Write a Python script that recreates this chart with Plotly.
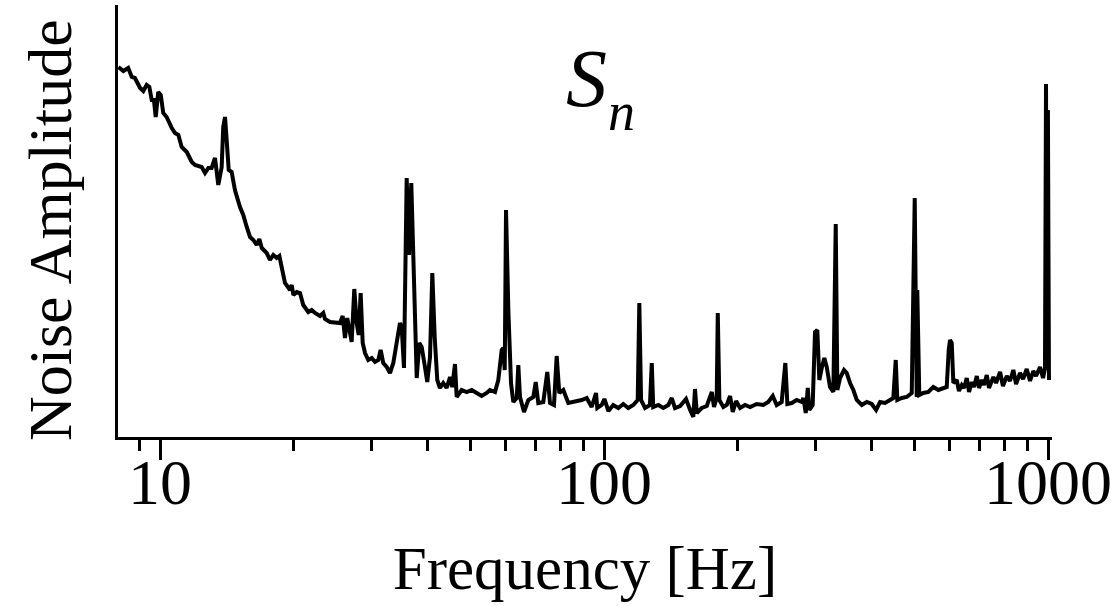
import plotly.graph_objects as go

# Frequency [Hz] and noise amplitude (arbitrary units)
freq_hz = [
    8.06, 8.27, 8.48, 8.64, 8.78, 9.02, 9.17, 9.33, 9.46, 9.58, 9.69, 9.78, 9.91,
    10.04, 10.17, 10.35, 10.63, 10.81, 11.00, 11.19, 11.49, 11.79, 11.99, 12.20,
    12.41, 12.63, 12.85, 13.07, 13.30, 13.53, 13.77, 13.88, 14.01, 14.13, 14.28,
    14.50, 14.75, 15.14, 15.40, 15.68, 15.95, 16.23, 16.51, 16.74, 16.95, 17.39,
    17.69, 18.00, 18.32, 18.57, 18.80, 19.12, 19.63, 19.80, 19.97, 20.32, 20.67,
    21.02, 21.58, 21.96, 22.34, 22.93, 23.32, 23.53, 24.15, 25.00,
    25.43, 25.79, 26.10, 26.41, 26.69, 27.02, 27.39, 27.73, 28.02, 28.31, 28.61,
    28.96, 29.45, 29.98, 30.49, 31.02, 31.40, 31.83, 32.40, 32.96, 33.53, 34.12,
    34.71, 35.02, 35.44, 35.94, 36.37, 36.81, 37.33, 37.86, 38.37, 38.85, 39.38,
    39.99, 40.56, 41.05, 41.56, 42.12, 42.71, 43.45, 44.22, 45.00, 45.53, 46.17,
    46.58, 47.80, 49.06, 50.35, 51.67, 53.03, 54.42, 55.36, 56.82, 57.80, 58.83,
    59.32, 59.76, 60.16, 60.89, 61.74, 62.48, 63.60, 64.12, 64.69, 66.04, 67.53,
    69.31, 70.18, 71.12, 72.99, 74.52, 75.57, 77.15, 78.24, 79.30, 80.96, 83.10,
    86.04,
    89.08, 91.42, 93.82, 95.94, 96.58, 98.81, 100.2, 102.3, 104.9, 107.7, 110.5,
    113.4, 116.4, 119.1, 120.1, 121.2, 123.7, 126.9, 128.1, 129.1, 132.6, 136.0,
    139.6, 142.1, 144.5, 148.4, 153.0, 156.3, 158.9, 160.3, 161.8, 166.0, 170.4,
    174.9, 176.9, 179.4, 180.4, 181.9, 185.7, 189.0, 192.3, 195.0, 198.4, 202.5,
    207.8, 213.3, 220.8, 228.5, 234.4, 239.9, 244.9, 251.3, 256.1, 258.8, 264.7,
    271.6, 278.9,
    281.2, 284.7, 287.7, 290.1, 295.1, 298.7, 302.3, 305.5, 309.3, 313.5, 317.4,
    322.9, 328.5, 332.6, 335.4, 340.1, 347.2, 352.1, 358.2, 364.4, 370.9, 380.7,
    390.7, 400.9, 410.0, 418.6, 429.6, 440.8, 448.4, 454.0, 457.8, 468.3, 480.6,
    493.3, 501.0, 506.2, 507.7, 513.0, 523.8, 537.6, 551.7, 566.2, 581.1, 591.4,
    597.6, 601.7, 607.0, 612.1, 623.0, 630.1, 639.4, 647.0, 656.2, 664.0, 673.4,
    681.4, 691.2, 699.3, 709.4, 717.6, 727.9, 736.4, 753.3, 763.9, 780.0, 791.7,
    807.5, 821.0, 835.5, 847.3, 865.0, 878.6, 895.6, 911.0, 926.6, 939.8, 959.4,
    974.6, 984.5, 989.7, 995.0, 999.5, 1005.0,
]
amplitude = [
    37.0, 36.6, 36.9, 36.0, 35.9, 34.9, 34.6, 35.2, 35.0, 33.7, 33.7, 32.0, 34.5,
    34.2, 32.4, 32.0, 30.9, 30.4, 30.2, 29.0, 28.5, 27.5, 27.2, 27.1,
    27.0, 26.4, 26.9, 26.9, 27.9, 25.2, 27.0, 31.0, 32.0, 29.7, 26.7,
    26.5, 24.7, 23.0, 22.2, 21.0, 20.0, 19.7, 19.2, 19.8, 18.9, 18.4,
    17.7, 18.2, 17.9, 18.1, 17.0, 15.4, 14.7, 15.2, 14.2, 14.5, 14.4,
    13.2, 12.5, 12.7, 12.4, 12.1, 12.4, 11.8, 11.5, 11.4,
    11.4, 12.1, 9.9, 11.9, 10.5, 9.5, 14.8, 11.4, 10.2, 14.4, 9.4,
    8.4, 7.7, 7.9, 7.5, 7.7, 8.7, 7.4, 7.0, 6.4, 7.4, 9.7,
    11.4, 11.0, 6.9, 25.9, 18.2, 25.4, 13.7, 5.9, 9.4, 9.0, 7.4,
    5.5, 8.0, 16.4, 10.0, 5.7, 4.9, 5.4, 4.9, 6.0, 5.0, 7.3,
    4.0, 4.7, 4.5, 4.7, 4.4, 4.1, 4.4, 4.7, 4.5, 5.7, 8.7,
    8.9, 6.7, 22.7, 12.7, 5.4, 3.5, 3.9, 7.2, 4.0, 2.5, 3.7,
    4.0, 5.5, 3.4, 3.5, 6.5, 3.4, 3.2, 8.1, 4.4, 4.7, 3.4,
    3.5,
    3.7, 3.9, 3.0, 4.4, 2.9, 3.2, 3.8, 2.6, 3.2, 2.9, 3.3,
    2.9, 3.2, 3.7, 13.4, 3.7, 2.9, 3.2, 7.4, 3.0, 3.2, 2.9,
    3.2, 3.9, 2.9, 3.1, 3.8, 2.7, 2.0, 4.8, 2.4, 2.9, 3.1,
    4.5, 3.0, 3.9, 12.4, 3.7, 3.0, 3.2, 4.1, 2.5, 3.6, 2.9,
    3.2, 3.0, 3.3, 3.2, 3.5, 4.1, 3.2, 3.5, 7.4, 3.3, 3.4,
    3.7, 3.5,
    3.9, 2.4, 4.9, 2.7, 3.2, 10.5, 10.7, 5.7, 6.9, 7.9, 7.0,
    5.0, 4.5, 21.3, 4.7, 5.9, 6.7, 6.4, 5.4, 4.7, 3.7, 3.2,
    3.5, 3.3, 2.7, 3.5, 3.4, 3.7, 3.9, 7.7, 3.7, 3.9, 4.0,
    4.4, 23.9, 4.0, 14.7, 4.2, 4.4, 4.5, 5.0, 4.7, 4.9, 5.0,
    8.7, 9.7, 9.4, 5.4, 5.7, 4.6, 5.2, 4.9, 5.9, 4.5, 5.5,
    5.0, 6.1, 4.9, 5.7, 5.2, 6.2, 4.9, 6.0, 5.4, 6.5, 5.1,
    6.1, 5.6, 6.7, 5.3, 6.4, 5.8, 6.8, 5.6, 6.6, 6.1, 7.0,
    5.9, 6.9, 35.3, 6.7, 32.7, 5.7,
]

major_ticks = [10, 100, 1000]
major_labels = ["10", "100", "1000"]
minor_ticks = [8, 9, 20, 30, 40, 50, 60, 70, 80, 90,
               200, 300, 400, 500, 600, 700, 800, 900]

FONT = "Liberation Serif, Times New Roman, serif"

fig = go.Figure()
fig.add_trace(go.Scatter(
    x=freq_hz, y=amplitude, mode="lines",
    line=dict(color="black", width=4),
    hoverinfo="skip", showlegend=False,
))

fig.update_layout(
    width=1112, height=606,
    margin=dict(l=118, r=60, t=5, b=169),
    paper_bgcolor="white", plot_bgcolor="white",
    font=dict(family=FONT, color="black", size=60),
    xaxis=dict(
        type="log",
        range=[0.9054, 3.009],
        automargin=False,
        showline=True, linecolor="black", linewidth=3,
        showgrid=False, zeroline=False,
        ticks="outside", ticklen=20, tickwidth=3, tickcolor="black",
        tickvals=major_ticks, ticktext=major_labels,
        tickfont=dict(family=FONT, size=64, color="black"),
        ticklabelstandoff=-33,
        ticklabeloverflow="allow",
        minor=dict(ticks="outside", ticklen=11, tickwidth=3,
                   tickcolor="black", tickvals=minor_ticks, showgrid=False),
        title=dict(text="Frequency [Hz]", font=dict(family=FONT, size=61),
                   standoff=30),
    ),
    yaxis=dict(
        range=[0, 43.2],
        automargin=False,
        showline=True, linecolor="black", linewidth=3,
        showgrid=False, zeroline=False,
        ticks="", showticklabels=False,
    ),
)

fig.add_annotation(
    xref="paper", yref="paper", x=-0.0728, y=0.479,
    xanchor="center", yanchor="middle", showarrow=False, textangle=-90,
    text="Noise Amplitude", font=dict(family=FONT, size=62, color="black"),
)
fig.add_annotation(
    xref="paper", yref="paper", x=0.477, y=0.83,
    xanchor="left", yanchor="middle", showarrow=False,
    text="<i>S</i>", font=dict(family=FONT, size=82, color="black"),
)
fig.add_annotation(
    xref="paper", yref="paper", x=0.522, y=0.752,
    xanchor="left", yanchor="middle", showarrow=False,
    text="<i>n</i>", font=dict(family=FONT, size=54, color="black"),
)

fig.write_html("out.html")
